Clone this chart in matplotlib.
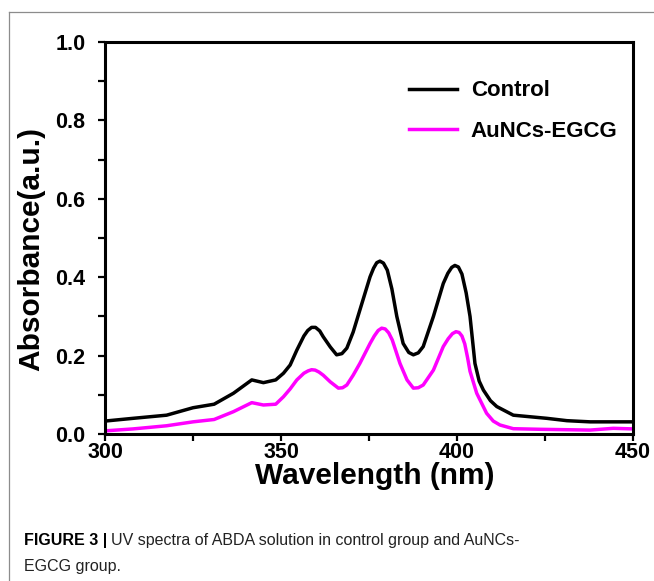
import numpy as np
import matplotlib
matplotlib.use("Agg")
import matplotlib.pyplot as plt
from matplotlib.lines import Line2D

plt.rcParams['font.family'] = ['Liberation Sans', 'DejaVu Sans']

# UV spectra
control_nm = [300, 308, 317.5, 325, 331, 336.5, 341.7, 345, 348.5, 350.7, 352.6, 354.5,
              356.5, 357.6, 358.7, 359.8, 361, 362, 364, 365.8, 367.3, 368.7, 370.5, 372.4,
              375.3, 376.3, 377.2, 378.1, 379.1, 380.2, 381.5, 382.9, 384.7, 386.3, 387.6,
              389, 390.4, 393.3, 396.1, 397.4, 398.5, 399.4, 400.4, 401.4, 402.6, 403.7,
              405.1, 406.3, 407.5, 409.5, 411.3, 416, 425.5, 431.2, 437.8, 450]
control_abs = [0.033, 0.040, 0.048, 0.067, 0.076, 0.104, 0.138, 0.131, 0.138, 0.155, 0.176, 0.214,
               0.250, 0.264, 0.272, 0.272, 0.263, 0.248, 0.222, 0.202, 0.205, 0.219, 0.260, 0.316,
               0.401, 0.423, 0.437, 0.441, 0.436, 0.418, 0.370, 0.300, 0.231, 0.208, 0.202,
               0.207, 0.223, 0.300, 0.384, 0.410, 0.425, 0.430, 0.426, 0.408, 0.360, 0.300,
               0.180, 0.135, 0.112, 0.085, 0.070, 0.048, 0.040, 0.034, 0.031, 0.031]

egcg_nm = [300, 308, 317.5, 325, 331, 336.5, 341.7, 345, 348.5, 350.7, 352.6, 354.5,
           356.5, 357.7, 358.7, 359.7, 360.8, 362, 364, 366.3, 367.5, 368.7, 370.5, 372.4,
           375.3, 376.5, 377.6, 378.6, 379.6, 380.6, 381.6, 383.8, 385.8, 387.6, 389,
           390.4, 393.3, 396.1, 397.5, 398.7, 399.7, 400.6, 401.4, 402.2, 403, 403.7,
           405.6, 408.4, 410.3, 412.2, 416, 423.6, 437.8, 444.4, 450]
egcg_abs = [0.008, 0.013, 0.021, 0.031, 0.037, 0.057, 0.080, 0.074, 0.076, 0.095, 0.115, 0.138,
            0.155, 0.161, 0.164, 0.163, 0.158, 0.150, 0.133, 0.117, 0.118, 0.125, 0.150, 0.180,
            0.231, 0.250, 0.264, 0.270, 0.268, 0.258, 0.240, 0.180, 0.138, 0.117, 0.118,
            0.125, 0.163, 0.223, 0.243, 0.256, 0.261, 0.259, 0.250, 0.230, 0.195, 0.160,
            0.104, 0.053, 0.033, 0.023, 0.0135, 0.012, 0.010, 0.0145, 0.013]

series_labels = ['Control', 'AuNCs-EGCG']
x_ticks = [300, 350, 400, 450]
y_ticks = [0.0, 0.2, 0.4, 0.6, 0.8, 1.0]

fig = plt.figure(figsize=(6.54, 5.81), dpi=100)
ax = fig.add_axes([105 / 654, 147 / 581, 528 / 654, 392 / 581])

ax.plot(control_nm, control_abs, color='black', lw=2.5, label=series_labels[0],
        solid_joinstyle='round')
ax.plot(egcg_nm, egcg_abs, color='#ff00ff', lw=2.5, label=series_labels[1],
        solid_joinstyle='round')

ax.set_xlim(300, 450)
ax.set_ylim(0, 1.0)
ax.set_xticks(x_ticks)
ax.set_xticks([325, 375, 425], minor=True)
ax.set_yticks(y_ticks)
ax.set_yticks([0.1, 0.3, 0.5, 0.7, 0.9], minor=True)
ax.set_xticklabels([str(v) for v in x_ticks])
ax.set_yticklabels(['%.1f' % v for v in y_ticks])

for s in ax.spines.values():
    s.set_linewidth(2.2)
ax.tick_params(which='both', direction='out', width=1.6, length=5, top=False, right=False)
ax.tick_params(axis='x', which='major', labelsize=15.5, pad=1)
ax.tick_params(axis='y', which='major', labelsize=15.5, pad=9)
for lab in ax.get_xticklabels() + ax.get_yticklabels():
    lab.set_fontweight('bold')

ax.set_xlabel('Wavelength (nm)', fontsize=21.5, fontweight='bold')
ax.xaxis.set_label_coords(0.511, -0.072)
ax.set_ylabel('Absorbance(a.u.)', fontsize=21.5, fontweight='bold')
ax.yaxis.set_label_coords(-0.114, 0.472)

ax.legend(loc='upper left', bbox_to_anchor=(0.575, 0.902), frameon=False,
          prop={'size': 16, 'weight': 'bold'}, handlelength=2.2, handletextpad=0.6,
          labelspacing=0.88, borderpad=0, borderaxespad=0)

# outer frame of the figure panel
fc = '#8c8c8c'
fig.add_artist(Line2D([9 / 654, 9 / 654], [0, 1 - 12 / 581], color=fc, lw=0.9))
fig.add_artist(Line2D([9 / 654, 1], [1 - 12 / 581, 1 - 12 / 581], color=fc, lw=0.9))

# caption
t1 = fig.text(24 / 654, 1 - 541 / 581, 'FIGURE 3 |', fontsize=11.5, fontweight='bold',
              va='center', ha='left')
fig.canvas.draw()
bb = t1.get_window_extent()
fig.text((bb.x1 + 4) / 654, 1 - 541 / 581,
         'UV spectra of ABDA solution in control group and AuNCs-',
         fontsize=11.5, va='center', ha='left', color='#222222')
fig.text(24 / 654, 1 - 567 / 581, 'EGCG group.', fontsize=11.5,
         va='center', ha='left', color='#222222')

fig.savefig('out.png', dpi=100)
